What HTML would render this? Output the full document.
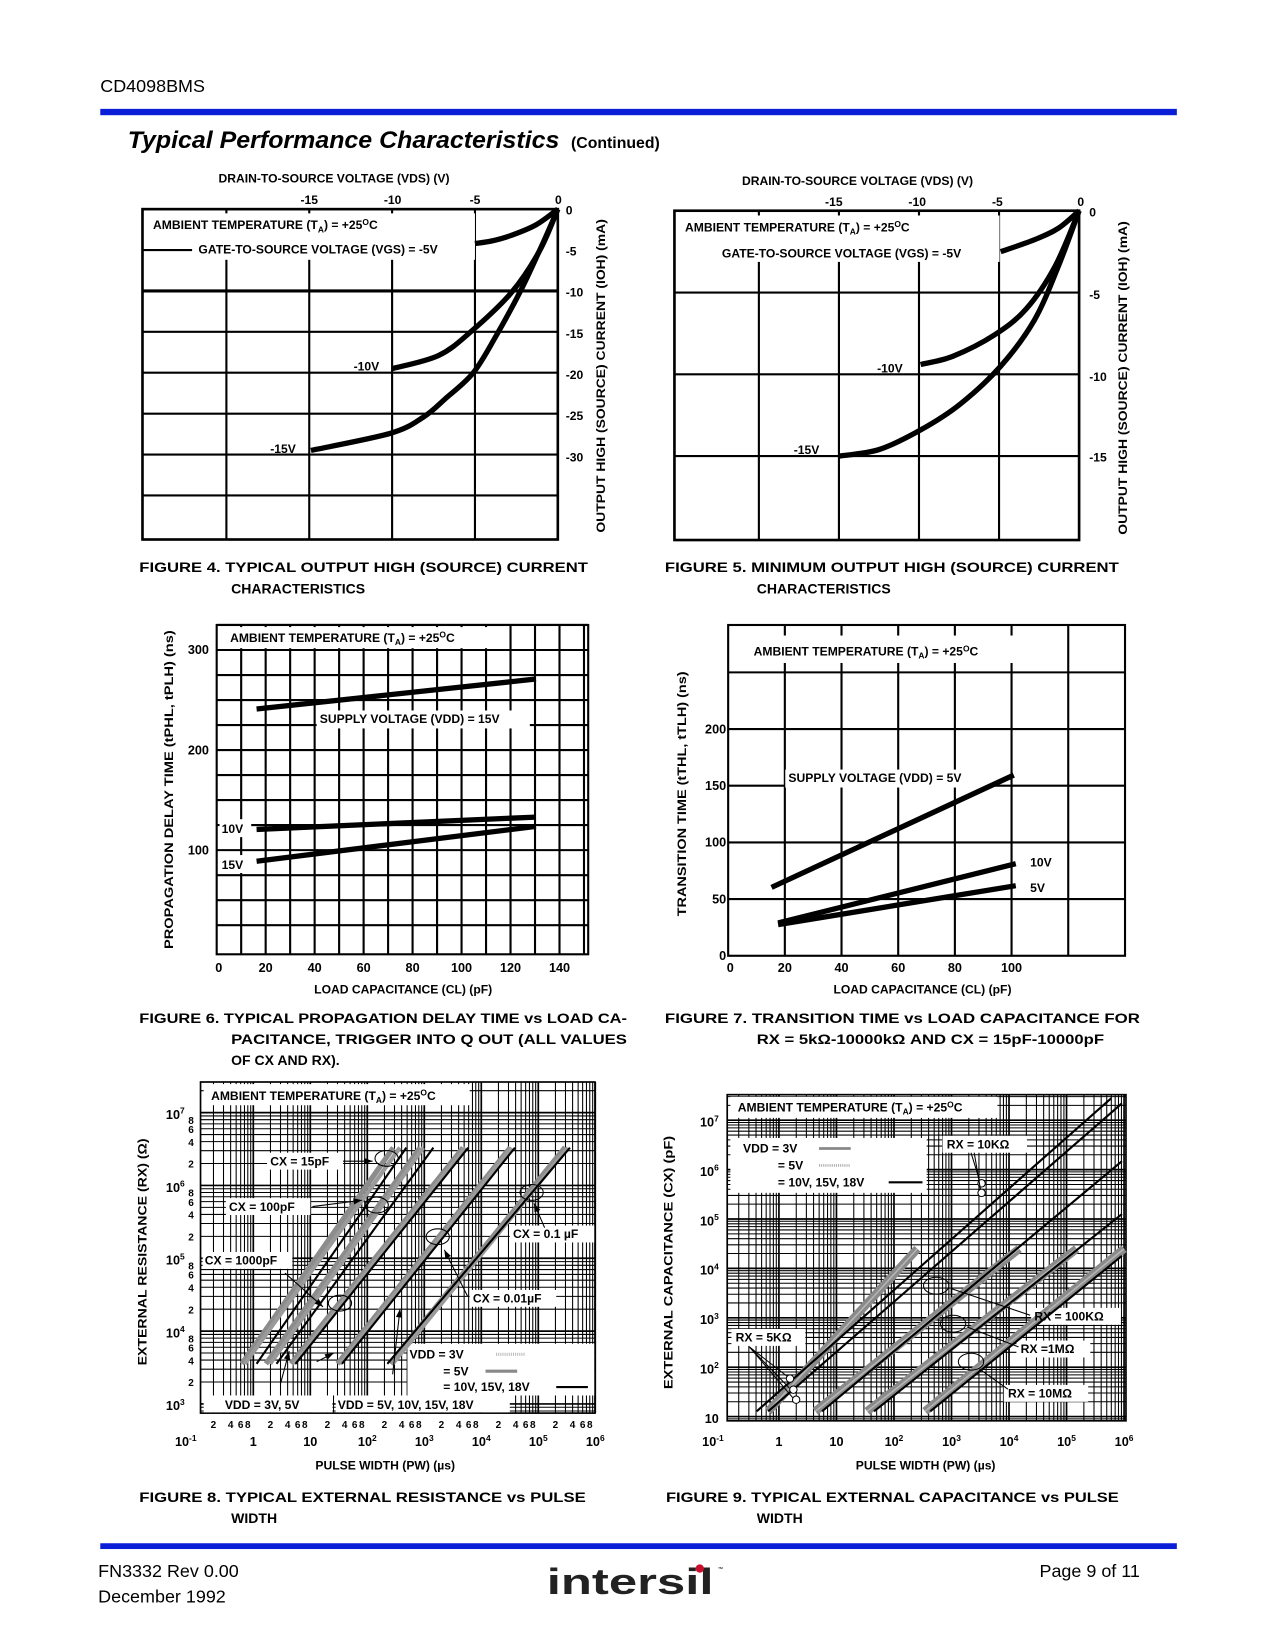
<!DOCTYPE html>
<html><head><meta charset="utf-8"><title>CD4098BMS Typical Performance Characteristics</title>
<style>
html,body{margin:0;padding:0;background:#fff;}
svg{display:block;}
text{font-family:"Liberation Sans",Arial,sans-serif;fill:#000;}
.b{font-weight:bold;font-size:11.5px;}
.cap{font-weight:bold;font-size:13.3px;}
.ax{font-weight:bold;font-size:12px;}
</style></head>
<body>
<svg id="page" xmlns="http://www.w3.org/2000/svg" width="1275" height="1650" viewBox="0 0 1208 1563">
<rect x="0" y="0" width="1208" height="1563" fill="#fff"/>
<text x="95" y="87" font-size="17">CD4098BMS</text>
<rect x="95" y="103" width="1020" height="6" fill="#0a1ed8"/>
<text x="121" y="140" font-size="23" font-weight="bold" font-style="italic" textLength="409" lengthAdjust="spacingAndGlyphs">Typical Performance Characteristics</text>
<text x="541" y="140" font-size="15" font-weight="bold">(Continued)</text>

<g id="grids"></g>
<g id="whites" fill="#fff">
  <rect x="137" y="202" width="313" height="32"/>
  <rect x="182" y="232" width="268" height="14"/>
  <rect x="642" y="204" width="305" height="30"/>
  <rect x="680" y="232" width="267" height="16"/>
  <rect x="207" y="594" width="258" height="20"/>
  <rect x="300" y="673" width="202" height="17"/>
  <rect x="208" y="776" width="30" height="17"/>
  <rect x="208" y="810" width="30" height="17"/>
  <rect x="698" y="602" width="268" height="26"/>
  <rect x="744" y="729" width="192" height="17"/>
  <rect x="193" y="1027" width="252" height="20"/>
  <rect x="386" y="1273" width="177" height="49"/>
  <rect x="193" y="1322" width="122" height="16"/>
  <rect x="318" y="1322" width="165" height="16"/>
  <rect x="253" y="1092" width="72" height="16"/>
  <rect x="214" y="1135" width="80" height="16"/>
  <rect x="192" y="1186" width="85" height="16"/>
  <rect x="483" y="1161" width="80" height="16"/>
  <rect x="445" y="1222" width="82" height="16"/>
  <rect x="692" y="1039" width="253" height="20"/>
  <rect x="692" y="1078" width="186" height="52"/>
  <rect x="893" y="1076" width="80" height="16"/>
  <rect x="977" y="1239" width="85" height="16"/>
  <rect x="963" y="1270" width="70" height="16"/>
  <rect x="951" y="1312" width="80" height="16"/>
  <rect x="693" y="1259" width="70" height="16"/>
</g>
<g id="marks"></g>

<g id="texts">
<text class="b" x="207" y="173">DRAIN-TO-SOURCE VOLTAGE (VDS) (V)</text>
<text class="b" x="293" y="193" text-anchor="middle">-15</text>
<text class="b" x="372" y="193" text-anchor="middle">-10</text>
<text class="b" x="450" y="193" text-anchor="middle">-5</text>
<text class="b" x="529" y="193" text-anchor="middle">0</text>
<text class="b" x="536" y="203">0</text>
<text class="b" x="536" y="242">-5</text>
<text class="b" x="536" y="281">-10</text>
<text class="b" x="536" y="320">-15</text>
<text class="b" x="536" y="359">-20</text>
<text class="b" x="536" y="398">-25</text>
<text class="b" x="536" y="437">-30</text>
<text class="b" transform="translate(573,356) rotate(-90)" text-anchor="middle" textLength="297" lengthAdjust="spacingAndGlyphs">OUTPUT HIGH (SOURCE) CURRENT (IOH) (mA)</text>
<text class="b" x="145" y="217">AMBIENT TEMPERATURE (T<tspan font-size="8" dy="3">A</tspan><tspan dy="-3">) = +25</tspan><tspan font-size="8" dy="-4">O</tspan><tspan dy="4">C</tspan></text>
<text class="b" x="188" y="240">GATE-TO-SOURCE VOLTAGE (VGS) = -5V</text>
<text class="b" x="335" y="351">-10V</text>
<text class="b" x="256" y="429">-15V</text>
<text class="cap" x="132" y="542" textLength="425" lengthAdjust="spacingAndGlyphs">FIGURE 4.  TYPICAL OUTPUT HIGH (SOURCE) CURRENT</text>
<text class="cap" x="219" y="562">CHARACTERISTICS</text>

<text class="b" x="703" y="175">DRAIN-TO-SOURCE VOLTAGE (VDS) (V)</text>
<text class="b" x="790" y="195" text-anchor="middle">-15</text>
<text class="b" x="869" y="195" text-anchor="middle">-10</text>
<text class="b" x="945" y="195" text-anchor="middle">-5</text>
<text class="b" x="1024" y="195" text-anchor="middle">0</text>
<text class="b" x="1032" y="205">0</text>
<text class="b" x="1032" y="283">-5</text>
<text class="b" x="1032" y="361">-10</text>
<text class="b" x="1032" y="437">-15</text>
<text class="b" transform="translate(1068,358) rotate(-90)" text-anchor="middle" textLength="297" lengthAdjust="spacingAndGlyphs">OUTPUT HIGH (SOURCE) CURRENT (IOH) (mA)</text>
<text class="b" x="649" y="219">AMBIENT TEMPERATURE (T<tspan font-size="8" dy="3">A</tspan><tspan dy="-3">) = +25</tspan><tspan font-size="8" dy="-4">O</tspan><tspan dy="4">C</tspan></text>
<text class="b" x="684" y="244">GATE-TO-SOURCE VOLTAGE (VGS) = -5V</text>
<text class="b" x="831" y="353">-10V</text>
<text class="b" x="752" y="430">-15V</text>
<text class="cap" x="630" y="542" textLength="430" lengthAdjust="spacingAndGlyphs">FIGURE 5.  MINIMUM OUTPUT HIGH (SOURCE) CURRENT</text>
<text class="cap" x="717" y="562">CHARACTERISTICS</text>

<text class="b" transform="translate(164,748) rotate(-90)" text-anchor="middle" textLength="302" lengthAdjust="spacingAndGlyphs">PROPAGATION DELAY TIME (tPHL, tPLH) (ns)</text>
<text class="b" x="218" y="608">AMBIENT TEMPERATURE (T<tspan font-size="8" dy="3">A</tspan><tspan dy="-3">) = +25</tspan><tspan font-size="8" dy="-4">O</tspan><tspan dy="4">C</tspan></text>
<text class="b" x="303" y="685">SUPPLY VOLTAGE (VDD) = 15V</text>
<text class="b" x="210" y="789">10V</text>
<text class="b" x="210" y="823">15V</text>
<text class="b" x="382" y="941" text-anchor="middle">LOAD CAPACITANCE (CL) (pF)</text>
<text class="cap" x="132" y="969" textLength="462" lengthAdjust="spacingAndGlyphs">FIGURE 6.  TYPICAL PROPAGATION DELAY TIME vs LOAD CA-</text>
<text class="cap" x="219" y="989" textLength="375" lengthAdjust="spacingAndGlyphs">PACITANCE, TRIGGER INTO Q OUT (ALL VALUES</text>
<text class="cap" x="219" y="1009">OF CX AND RX).</text>

<text class="b" transform="translate(650,752) rotate(-90)" text-anchor="middle" textLength="232" lengthAdjust="spacingAndGlyphs">TRANSITION TIME (tTHL, tTLH) (ns)</text>
<text class="b" x="714" y="621">AMBIENT TEMPERATURE (T<tspan font-size="8" dy="3">A</tspan><tspan dy="-3">) = +25</tspan><tspan font-size="8" dy="-4">O</tspan><tspan dy="4">C</tspan></text>
<text class="b" x="747" y="741">SUPPLY VOLTAGE (VDD) = 5V</text>
<text class="b" x="976" y="821">10V</text>
<text class="b" x="976" y="845">5V</text>
<text class="b" x="874" y="941" text-anchor="middle">LOAD CAPACITANCE (CL) (pF)</text>
<text class="cap" x="630" y="969" textLength="450" lengthAdjust="spacingAndGlyphs">FIGURE 7.  TRANSITION TIME vs LOAD CAPACITANCE FOR</text>
<text class="cap" x="717" y="989" textLength="329" lengthAdjust="spacingAndGlyphs">RX = 5kΩ-10000kΩ AND CX = 15pF-10000pF</text>

<text class="b" x="200" y="1042">AMBIENT TEMPERATURE (T<tspan font-size="8" dy="3">A</tspan><tspan dy="-3">) = +25</tspan><tspan font-size="8" dy="-4">O</tspan><tspan dy="4">C</tspan></text>
<text class="b" x="256" y="1104">CX = 15pF</text>
<text class="b" x="217" y="1147">CX = 100pF</text>
<text class="b" x="194" y="1198">CX = 1000pF</text>
<text class="b" x="486" y="1173">CX = 0.1 µF</text>
<text class="b" x="448" y="1234">CX = 0.01µF</text>
<text class="b" x="388" y="1287">VDD = 3V</text>
<text class="b" x="420" y="1303">= 5V</text>
<text class="b" x="420" y="1318">= 10V, 15V, 18V</text>
<text class="b" x="213" y="1335">VDD = 3V, 5V</text>
<text class="b" x="320" y="1335">VDD = 5V, 10V, 15V, 18V</text>
<text class="b" transform="translate(139,1186) rotate(-90)" text-anchor="middle" textLength="215" lengthAdjust="spacingAndGlyphs">EXTERNAL RESISTANCE (RX) (Ω)</text>
<text class="b" x="365" y="1392" text-anchor="middle">PULSE WIDTH (PW) (µs)</text>
<text class="cap" x="132" y="1423" textLength="423" lengthAdjust="spacingAndGlyphs">FIGURE 8.  TYPICAL EXTERNAL RESISTANCE vs PULSE</text>
<text class="cap" x="219" y="1443">WIDTH</text>

<text class="b" x="699" y="1053">AMBIENT TEMPERATURE (T<tspan font-size="8" dy="3">A</tspan><tspan dy="-3">) = +25</tspan><tspan font-size="8" dy="-4">O</tspan><tspan dy="4">C</tspan></text>
<text class="b" x="704" y="1092">VDD = 3V</text>
<text class="b" x="737" y="1108">= 5V</text>
<text class="b" x="737" y="1124">= 10V, 15V, 18V</text>
<text class="b" x="897" y="1088">RX = 10KΩ</text>
<text class="b" x="980" y="1251">RX = 100KΩ</text>
<text class="b" x="967" y="1282">RX =1MΩ</text>
<text class="b" x="955" y="1324">RX = 10MΩ</text>
<text class="b" x="697" y="1271">RX = 5KΩ</text>
<text class="b" transform="translate(637,1196) rotate(-90)" text-anchor="middle" textLength="240" lengthAdjust="spacingAndGlyphs">EXTERNAL CAPACITANCE (CX) (pF)</text>
<text class="b" x="877" y="1392" text-anchor="middle">PULSE WIDTH (PW) (µs)</text>
<text class="cap" x="631" y="1423" textLength="429" lengthAdjust="spacingAndGlyphs">FIGURE 9.  TYPICAL EXTERNAL CAPACITANCE vs PULSE</text>
<text class="cap" x="717" y="1443">WIDTH</text>
</g>

<rect x="95" y="1462" width="1020" height="5.5" fill="#0a1ed8"/>
<text x="93" y="1494" font-size="17">FN3332  Rev 0.00</text>
<text x="93" y="1518" font-size="17">December 1992</text>
<text x="1080" y="1494" font-size="17" text-anchor="end">Page 9 of 11</text>
<text x="518" y="1510" font-size="34" font-weight="bold" textLength="158" lengthAdjust="spacingAndGlyphs" style="fill:#222">intersil</text>
<circle cx="663" cy="1486" r="4" fill="#c8102e"/>
<text x="680" y="1488" font-size="5">™</text>
</svg>

<script>
const fig4Labels = ['-5V', '-10V', '-15V'];
const fig4Vds5 = [-5, -4, -2.8, -1.3, 0];
const fig4Ioh5 = [-4.2, -3.9, -3.2, -1.9, 0];
const fig4Vds10 = [-10, -7.2, -5.2, -2.8, -1.1, 0];
const fig4Ioh10 = [-19.5, -17.9, -14.9, -10.2, -5.1, 0];
const fig4Vds15 = [-14.9, -10.1, -8.1, -6.8, -5.1, -3.7, -2.2, -1, 0];
const fig4Ioh15 = [-29.5, -27.4, -25.4, -23.2, -20, -15.4, -9.8, -4.6, 0];
const fig4XTicks = [-20, -15, -10, -5];
const fig4YGrid = [-10, -15, -20, -25, -30, -35];

const fig5Vds5 = [-4.9, -2.8, -1.3, 0];
const fig5Ioh5 = [-2.5, -1.78, -1.07, 0];
const fig5Vds10 = [-9.9, -7.9, -5.3, -3.3, -1.5, 0];
const fig5Ioh10 = [-9.4, -8.9, -7.6, -6.0, -3.4, 0];
const fig5Vds15 = [-15, -12.5, -9.9, -7.4, -4.9, -2.8, -1.3, 0];
const fig5Ioh15 = [-15, -14.6, -13.4, -11.8, -9.5, -6.7, -3.4, 0];
const fig5XTicks = [-20, -15, -10, -5];
const fig5YGrid = [-5, -10, -15];

const fig6Cl = [16.3, 130.4];
const fig6Vdd5 = [241, 271];
const fig6Vdd10 = [120.7, 133];
const fig6Vdd15 = [88.9, 123.7];
const fig6XTicks = [0, 20, 40, 60, 80, 100, 120, 140];
const fig6YTicks = [100, 200, 300];

const fig7Cl5 = [15.3, 100.8];
const fig7Vdd5 = [60.3, 159.4];
const fig7Cl10 = [17.6, 101.5];
const fig7Vdd10 = [29, 81.2];
const fig7ClLow = [17.6, 101.5];
const fig7Vdd5Low = [27.5, 61.8];
const fig7XTicks = [0, 20, 40, 60, 80, 100];
const fig7YTicks = [0, 50, 100, 150, 200];

const fig8CxLabels = ['15pF', '100pF', '1000pF', '0.01uF', '0.1uF'];
const fig8RxEnds = [3550, 3300000];
const fig8Pw3vLow = [0.63, 1.67, 4.6, 30, 255];
const fig8Pw3vHigh = [286, 843, 4800, 32000, 300000];
const fig8Pw5vLow = [0.71, 1.98, 5.1, 33, 278];
const fig8Pw5vHigh = [373, 958, 5300, 34000, 330000];
const fig8PwBlkLow = [1.14, 2.56, 5.5, 36, 225];
const fig8PwBlkHigh = [484, 1440, 5900, 39000, 360000];
const fig8XLabels = ['10-1', '1', '10', '102', '103', '104', '105', '106'];
const fig8YLabels = ['103', '104', '105', '106', '107'];

const fig9RxLabels = ['5K', '10K', '100K', '1M', '10M'];
const fig9BlkPwLow = [0.41, 0.65, 5.6, 45, 427];
const fig9BlkCxLow = [12.8, 12.8, 12.8, 12.8, 12.8];
const fig9BlkPwHigh = [600000, 920000, 920000, 920000, 920000];
const fig9BlkCxHigh = [28000000, 22000000, 1480000, 126000, 18000];
const fig9GrayPwLow = [0.65, 4.3, 34, 346];
const fig9GrayPwHigh = [256, 15000, 150000, 1000000];
const fig9GrayCxLow = [12.8, 12.8, 12.8, 12.8];
const fig9GrayCxHigh = [25000, 25000, 25000, 25000];
const fig9XLabels = ['10-1', '1', '10', '102', '103', '104', '105', '106'];
const fig9YLabels = ['10', '102', '103', '104', '105', '106', '107'];

const NS = 'http://www.w3.org/2000/svg';
const G = document.getElementById('grids');
const M = document.getElementById('marks');
const T = document.getElementById('texts');
function mk(tag, a, parent) {
  const e = document.createElementNS(NS, tag);
  for (const k in a) e.setAttribute(k, a[k]);
  parent.appendChild(e);
  return e;
}
function pts(xs, ys, fx, fy) { return xs.map((v, i) => fx(v).toFixed(1) + ',' + fy(ys[i]).toFixed(1)).join(' '); }
function smooth(xs, ys, fx, fy) {
  const p = xs.map((v, i) => [fx(v), fy(ys[i])]);
  let d = 'M' + p[0][0].toFixed(1) + ',' + p[0][1].toFixed(1);
  for (let i = 0; i < p.length - 1; i++) {
    const p0 = p[Math.max(0, i - 1)], p1 = p[i], p2 = p[i + 1], p3 = p[Math.min(p.length - 1, i + 2)];
    const c1 = [p1[0] + (p2[0] - p0[0]) / 6, p1[1] + (p2[1] - p0[1]) / 6];
    const c2 = [p2[0] - (p3[0] - p1[0]) / 6, p2[1] - (p3[1] - p1[1]) / 6];
    d += ' C' + c1[0].toFixed(1) + ',' + c1[1].toFixed(1) + ' ' + c2[0].toFixed(1) + ',' + c2[1].toFixed(1) + ' ' + p2[0].toFixed(1) + ',' + p2[1].toFixed(1);
  }
  return d;
}
function lg(v) { return Math.log10(v); }

const f4x = v => 528.5 + v * 15.7;
const f4y = i => 198 - i * 7.75;
(function () {
  let e;
  e = mk('rect', { x: 135, y: 198, width: 393.5, height: 313, fill: 'none', stroke: '#000', 'stroke-width': 2.5 }, G);
  
  
  fig4XTicks.forEach(v => {
    e = mk('line', { x1: f4x(v), x2: f4x(v), y1: 198, y2: 511, stroke: '#000', 'stroke-width': 2 }, G);
    
    
  });
  fig4YGrid.forEach(v => {
    e = mk('line', { x1: 135, x2: 528.5, y1: f4y(v), y2: f4y(v), stroke: '#000', 'stroke-width': v === -10 ? 3 : 2 }, G);
    
    
  });
  e = mk('line', { x1: 135, x2: 182, y1: f4y(-5), y2: f4y(-5), stroke: '#000', 'stroke-width': 2 }, T);
  
  
  [[fig4Vds5, fig4Ioh5], [fig4Vds10, fig4Ioh10], [fig4Vds15, fig4Ioh15]].forEach((s, k) => {
    e = mk('path', { d: smooth(s[0], s[1], f4x, f4y), fill: 'none', stroke: '#000', 'stroke-width': 5, 'stroke-linejoin': 'round' }, M);
    
    
  });
})();

const f5x = v => 1022.4 + v * 15.17;
const f5y = i => 199.5 - i * 15.5;
(function () {
  let e;
  e = mk('rect', { x: 639, y: 199.5, width: 383.4, height: 312, fill: 'none', stroke: '#000', 'stroke-width': 2.5 }, G);
  
  
  fig5XTicks.forEach(v => {
    e = mk('line', { x1: f5x(v), x2: f5x(v), y1: 199.5, y2: 511.5, stroke: '#000', 'stroke-width': 2 }, G);
    
    
  });
  fig5YGrid.forEach(v => {
    e = mk('line', { x1: 639, x2: 1022.4, y1: f5y(v), y2: f5y(v), stroke: '#000', 'stroke-width': 2 }, G);
    
    
  });
  [[fig5Vds5, fig5Ioh5], [fig5Vds10, fig5Ioh10], [fig5Vds15, fig5Ioh15]].forEach((s, k) => {
    e = mk('path', { d: smooth(s[0], s[1], f5x, f5y), fill: 'none', stroke: '#000', 'stroke-width': 5, 'stroke-linejoin': 'round' }, M);
    
    
  });
})();

const f6x = c => 205.3 + c * 2.32;
const f6y = n => 805.3 - (n - 100) * 0.948;
(function () {
  let e;
  e = mk('rect', { x: 205.3, y: 592, width: 352, height: 312, fill: 'none', stroke: '#000', 'stroke-width': 2 }, G);
  
  
  for (let c = 10; c < 151; c += 10) {
    e = mk('line', { x1: f6x(c), x2: f6x(c), y1: 592, y2: 904, stroke: '#000', 'stroke-width': 2 }, G);
    
    
  }
  for (let n = 25; n <= 325; n += 25) {
    e = mk('line', { x1: 205.3, x2: 557.3, y1: f6y(n), y2: f6y(n), stroke: '#000', 'stroke-width': 2 }, G);
    
    
  }
  fig6XTicks.forEach(c => {
    e = mk('text', { x: f6x(c) + (c === 0 ? 2 : 0), y: 921, 'text-anchor': 'middle', class: 'ax' }, T);
    e.textContent = c;
    
    
  });
  fig6YTicks.forEach(n => {
    e = mk('text', { x: 198, y: f6y(n) + 4, 'text-anchor': 'end', class: 'ax' }, T);
    e.textContent = n;
    
    
  });
  [['vdd5', fig6Vdd5], ['vdd10', fig6Vdd10], ['vdd15', fig6Vdd15]].forEach(s => {
    e = mk('polyline', { points: pts(fig6Cl, s[1], f6x, f6y), fill: 'none', stroke: '#000', 'stroke-width': 5 }, M);
    
    
  });
})();

const f7x = c => 689.9 + c * 2.685;
const f7y = n => 905.4 - n * 1.074;
(function () {
  let e;
  e = mk('rect', { x: 689.9, y: 592, width: 376, height: 313.4, fill: 'none', stroke: '#000', 'stroke-width': 2 }, G);
  
  
  for (let c = 20; c <= 120; c += 20) {
    e = mk('line', { x1: f7x(c), x2: f7x(c), y1: 592, y2: 905.4, stroke: '#000', 'stroke-width': 2 }, G);
    
    
  }
  for (let n = 50; n <= 250; n += 50) {
    e = mk('line', { x1: 689.9, x2: 1065.9, y1: f7y(n), y2: f7y(n), stroke: '#000', 'stroke-width': 2 }, G);
    
    
  }
  fig7XTicks.forEach(c => {
    e = mk('text', { x: f7x(c) + (c === 0 ? 2 : 0), y: 921, 'text-anchor': 'middle', class: 'ax' }, T);
    e.textContent = c;
    
    
  });
  fig7YTicks.forEach(n => {
    e = mk('text', { x: 688, y: f7y(n) + 4, 'text-anchor': 'end', class: 'ax' }, T);
    e.textContent = n;
    
    
  });
  [['vdd5-supply', fig7Cl5, fig7Vdd5], ['vdd10', fig7Cl10, fig7Vdd10], ['vdd5-low', fig7ClLow, fig7Vdd5Low]].forEach(s => {
    e = mk('polyline', { points: pts(s[1], s[2], f7x, f7y), fill: 'none', stroke: '#000', 'stroke-width': 5 }, M);
    
    
  });
})();

function logGrid(name, L, R, Tp, B, fx, fy, xlo, xhi, ylo, yhi) {
  let e;
  for (let d = xlo; d <= xhi; d++) {
    for (let m = 1; m <= 9; m++) {
      const x = fx(m * Math.pow(10, d));
      if (x < L - 0.5 || x > R + 0.5) continue;
      e = mk('line', { x1: x, x2: x, y1: Tp, y2: B, stroke: '#000', 'stroke-width': m === 1 ? 1.6 : 1 }, G);
      
      
    }
  }
  for (let d = ylo; d <= yhi; d++) {
    for (let m = 1; m <= 9; m++) {
      const y = fy(m * Math.pow(10, d));
      if (y < Tp - 0.5 || y > B + 0.5) continue;
      e = mk('line', { x1: L, x2: R, y1: y, y2: y, stroke: '#000', 'stroke-width': m === 1 ? 1.6 : 1 }, G);
      
      
    }
  }
  e = mk('rect', { x: L, y: Tp, width: R - L, height: B - Tp, fill: 'none', stroke: '#000', 'stroke-width': 1.6 }, G);
  
  
}
function supLabel(x, y, s, name, anchor) {
  const e = mk('text', { x: x, y: y, 'text-anchor': anchor || 'middle', class: 'ax' }, T);
  if (s.length > 2 && s.startsWith('10')) {
    e.appendChild(document.createTextNode('10'));
    const t = mk('tspan', { 'font-size': 8, dy: -5 }, e);
    t.textContent = s.slice(2);
  } else e.textContent = s;
  
  
  return e;
}

const f8x = p => 240 + lg(p) * 54;
const f8y = r => 1330 - (lg(r) - 3) * 69;
(function () {
  let e;
  logGrid('fig8', 190, 563.7, 1025, 1338.7, f8x, f8y, -1, 6, 2, 7);
  fig8XLabels.forEach((s, k) => {
    supLabel(f8x(Math.pow(10, k - 1)) - (k === 0 ? 10 : 0), 1370, s, 'fig8-x-decade-label');
  });
  for (let d = -1; d <= 5; d++) {
    [2, 4, 6, 8].forEach(m => {
      e = mk('text', { x: f8x(m * Math.pow(10, d)), y: 1353, 'text-anchor': 'middle', 'font-size': 9.5, 'font-weight': 'bold' }, T);
      e.textContent = m;
      
      
    });
  }
  fig8YLabels.forEach((s, k) => {
    supLabel(175, f8y(Math.pow(10, k + 3)) + 6, s, 'fig8-y-decade-label', 'end');
    if (k < 4) [2, 4, 6, 8].forEach(m => {
      e = mk('text', { x: 181, y: f8y(m * Math.pow(10, k + 3)) + 4, 'text-anchor': 'middle', 'font-size': 9.5, 'font-weight': 'bold' }, T);
      e.textContent = m;
      
      
    });
  });
  fig8CxLabels.forEach((c, k) => {
    e = mk('polyline', { points: pts([fig8Pw3vLow[k], fig8Pw3vHigh[k]], fig8RxEnds, f8x, f8y), fill: 'none', stroke: '#8c8c8c', 'stroke-width': k === 4 ? 6 : 5 }, M);
    
    
    e = mk('polyline', { points: pts([fig8Pw5vLow[k], fig8Pw5vHigh[k]], fig8RxEnds, f8x, f8y), fill: 'none', stroke: '#9a9a9a', 'stroke-width': 4 }, M);
    
    
    e = mk('polyline', { points: pts([fig8PwBlkLow[k], fig8PwBlkHigh[k]], fig8RxEnds, f8x, f8y), fill: 'none', stroke: '#000', 'stroke-width': 2 }, M);
    
    
  });
  [[366.3, 1097.4], [356.9, 1141.6], [322.1, 1234.5], [414.7, 1171.6], [503.7, 1129.6]].forEach(c => {
    e = mk('ellipse', { cx: c[0], cy: c[1], rx: 11, ry: 7.5, fill: 'none', stroke: '#000', 'stroke-width': 1 }, M);
    
    
  });
  [[325, 1100, 353, 1100], [296, 1143, 343, 1137], [270, 1206, 306, 1238], [516, 1163, 506, 1140], [443, 1228, 421, 1184], [266, 1310, 274, 1280], [372, 1302, 379, 1240], [300, 1290, 316, 1282]].forEach(a => {
    e = mk('line', { x1: a[0], y1: a[1], x2: a[2], y2: a[3], stroke: '#000', 'stroke-width': 1 }, M);
    
    
    const ang = Math.atan2(a[3] - a[1], a[2] - a[0]);
    const p1 = [a[2] - 8 * Math.cos(ang) + 3 * Math.sin(ang), a[3] - 8 * Math.sin(ang) - 3 * Math.cos(ang)];
    const p2 = [a[2] - 8 * Math.cos(ang) - 3 * Math.sin(ang), a[3] - 8 * Math.sin(ang) + 3 * Math.cos(ang)];
    e = mk('polygon', { points: a[2] + ',' + a[3] + ' ' + p1.join(',') + ' ' + p2.join(','), fill: '#000' }, M);
    
    
  });
  e = mk('line', { x1: 470, x2: 497, y1: 1283, y2: 1283, stroke: '#bbb', 'stroke-width': 3, 'stroke-dasharray': '1 1' }, M);
  
  
  e = mk('line', { x1: 460, x2: 490, y1: 1299, y2: 1299, stroke: '#888', 'stroke-width': 3 }, M);
  
  
  e = mk('line', { x1: 527, x2: 557, y1: 1314, y2: 1314, stroke: '#000', 'stroke-width': 2 }, M);
  
  
  e = mk('line', { x1: 316, x2: 316, y1: 1322, y2: 1338, stroke: '#000', 'stroke-width': 1 }, M);
  
  
})();

const f9x = p => 738 + lg(p) * 54.5;
const f9y = c => 1342 - (lg(c) - 1) * 46.8;
(function () {
  let e;
  logGrid('fig9', 689, 1066.8, 1037, 1346, f9x, f9y, -1, 6, 0, 7);
  fig9XLabels.forEach((s, k) => {
    supLabel(f9x(Math.pow(10, k - 1)) - (k === 0 ? 8 : 0), 1370, s, 'fig9-x-decade-label');
  });
  fig9YLabels.forEach((s, k) => {
    supLabel(681, f9y(Math.pow(10, k + 1)) + 6, s, 'fig9-y-decade-label', 'end');
  });
  for (let k = 0; k < fig9GrayPwLow.length; k++) {
    e = mk('polyline', { points: pts([fig9GrayPwLow[k], fig9GrayPwHigh[k]], [fig9GrayCxLow[k], fig9GrayCxHigh[k]], f9x, f9y), fill: 'none', stroke: '#8a8a8a', 'stroke-width': 8 }, M);
    
    
    e = mk('polyline', { points: pts([fig9GrayPwLow[k], fig9GrayPwHigh[k]], [fig9GrayCxLow[k], fig9GrayCxHigh[k]], f9x, f9y), fill: 'none', stroke: '#b5b5b5', 'stroke-width': 1.5 }, M);
    
    
  }
  const clip = mk('clipPath', { id: 'f9clip' }, M);
  mk('rect', { x: 689, y: 1037, width: 378, height: 309 }, clip);
  fig9RxLabels.forEach((r, k) => {
    e = mk('polyline', { points: pts([fig9BlkPwLow[k], fig9BlkPwHigh[k]], [fig9BlkCxLow[k], fig9BlkCxHigh[k]], f9x, f9y), fill: 'none', stroke: '#000', 'stroke-width': 2, 'clip-path': 'url(#f9clip)' }, M);
    
    
  });
  [[887, 1218, 12, 8], [903, 1254, 12, 8], [920, 1290, 12, 8], [930, 1121, 3.5, 3.5], [930, 1130, 3.5, 3.5], [748.5, 1306, 3.5, 3.5], [751.7, 1316.5, 3.5, 3.5], [754.3, 1326, 3.5, 3.5]].forEach(c => {
    e = mk('ellipse', { cx: c[0], cy: c[1], rx: c[2], ry: c[3], fill: c[2] < 5 ? '#fff' : 'none', stroke: '#000', 'stroke-width': 1 }, M);
    
    
  });
  [[920, 1092, 928, 1118], [923, 1092, 929, 1127], [976, 1246, 902, 1221], [965, 1276, 916, 1257], [955, 1316, 928, 1297], [710, 1276, 746, 1304], [710, 1276, 748, 1315], [710, 1276, 751, 1324]].forEach(a => {
    e = mk('line', { x1: a[0], y1: a[1], x2: a[2], y2: a[3], stroke: '#000', 'stroke-width': 1 }, M);
    
    
  });
  e = mk('line', { x1: 776, x2: 806, y1: 1088, y2: 1088, stroke: '#888', 'stroke-width': 2.5 }, M);
  
  
  e = mk('line', { x1: 776, x2: 806, y1: 1104, y2: 1104, stroke: '#aaa', 'stroke-width': 2.5, 'stroke-dasharray': '1 1' }, M);
  
  
  e = mk('line', { x1: 842, x2: 874, y1: 1120, y2: 1120, stroke: '#000', 'stroke-width': 2 }, M);
  
  
})();
</script>
</body></html>
